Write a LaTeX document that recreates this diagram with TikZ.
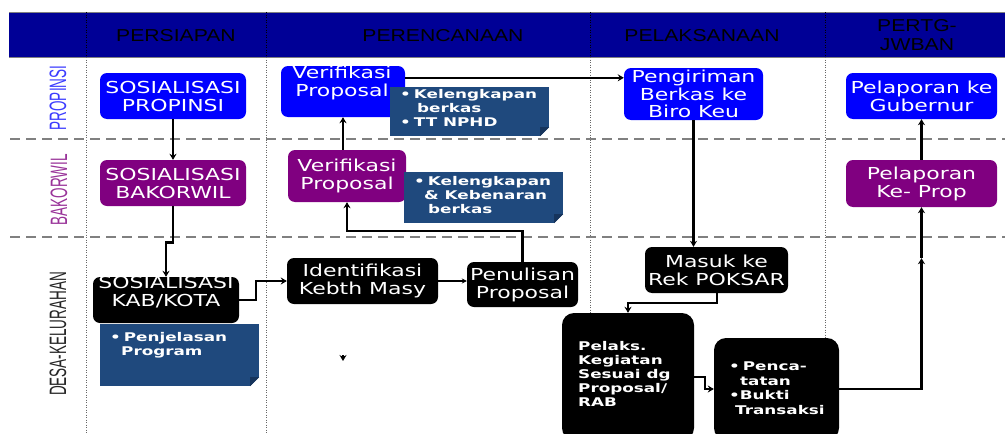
\documentclass[tikz,border=0pt]{standalone}
\usepackage{fontspec}
\usetikzlibrary{arrows.meta}
\newfontfamily\bxf{DejaVu Sans}[FakeStretch=1.33]
\newfontfamily\ntf{DejaVu Sans}[FakeStretch=1.4]
\newfontfamily\hdf{Liberation Sans}[FakeStretch=1.23]
\newfontfamily\lnf{Liberation Sans}[FakeStretch=0.57]
\definecolor{hdr}{RGB}{0,0,150}
\definecolor{bblue}{RGB}{0,0,255}
\definecolor{bpurp}{RGB}{128,0,128}
\definecolor{notec}{RGB}{31,73,125}
\definecolor{notefold}{RGB}{22,52,92}
\definecolor{lanep}{RGB}{60,60,255}
\definecolor{lanew}{RGB}{153,51,153}
\definecolor{gridc}{RGB}{128,128,128}
\newcommand\mynotefold[1]{%
  \fill[white] ([xshift=-9pt]#1.south east) -- (#1.south east) -- ([yshift=9pt]#1.south east) -- cycle;
  \fill[notefold] ([xshift=-9pt]#1.south east) -- ([yshift=9pt]#1.south east) -- ([xshift=-9pt,yshift=9pt]#1.south east) -- cycle;}
\begin{document}
\begin{tikzpicture}[x=1pt,y=-1pt,
  btxt/.style={align=center, text=white, inner sep=0pt, font=\bxf\fontsize{16.5}{18}\selectfont},
  box/.style={btxt, rounded corners=7pt},
  bl/.style={box, fill=bblue},
  pu/.style={box, fill=bpurp},
  bk/.style={box, fill=black},
  note/.style={fill=notec, inner sep=0pt},
  ntxt/.style={anchor=north west, inner sep=0pt, align=left, text=white, font=\ntf\bfseries\fontsize{12}{14}\selectfont},
  hdtxt/.style={align=center, text=black, inner sep=0pt, font=\hdf\fontsize{17.2}{19}\selectfont},
  lane/.style={rotate=90, inner sep=0pt, font=\lnf\fontsize{23.7}{24}\selectfont},
  conn/.style={line width=2.6pt, -{Stealth[length=6pt,width=7pt]}},
  thinconn/.style={line width=1.1pt, -{Stealth[length=5pt,width=5pt]}},
  sep/.style={gridc, line width=2.5pt, dash pattern=on 10pt off 6pt},
  col/.style={gridc!80!black, line width=0.9pt, dash pattern=on 1pt off 1.5pt}]
\clip (0,0) rectangle (1005,434);
\fill[white] (0,0) rectangle (1005,434);
% header
\fill[hdr] (9,12) rectangle (1005,57);
\draw[gray, line width=1pt] (9,12) -- (1005,12) (9,57) -- (1005,57);
\foreach \x in {86,266,590,825} {
  \draw[black, line width=0.8pt, dash pattern=on 1pt off 1.5pt] (\x,12) -- (\x,57);
  \draw[col] (\x,57) -- (\x,434);
}
\draw[sep] (10,139) -- (1005,139);
\draw[sep] (10,237) -- (1005,237);
\node[hdtxt] (h1) at (176,35.5) {PERSIAPAN};
\node[hdtxt] (h2) at (443,35.5) {PERENCANAAN};
\node[hdtxt] (h3) at (702,36) {PELAKSANAAN};
\node[hdtxt] (h4) at (917,35.5) {PERTG-\\JWBAN};
% lanes
\node[lane, text=lanep] (l1) at (58,98) {PROPINSI};
\node[lane, text=lanew] (l2) at (59,190) {BAKORWIL};
\node[lane, text=black!85] (l3) at (58,334) {DESA-KELURAHAN};
% boxes
\node[bl, minimum width=146pt, minimum height=46pt] (sp) at (173,96) {SOSIALISASI\\PROPINSI};
\node[pu, minimum width=146pt, minimum height=46pt] (sb) at (173,183) {SOSIALISASI\\BAKORWIL};
\node[bk, minimum width=146pt, minimum height=46pt] (sk) at (166,300) {};
\node[btxt] (skt) at (166,292) {SOSIALISASI\\KAB/KOTA};
\node[note, minimum width=159pt, minimum height=62pt] (np) at (179.5,355) {};
\mynotefold{np}
\node[ntxt] (npt) at (110,332.5) {•\kern3pt Penjelasan\\\hspace*{11pt}Program};
\node[bl, minimum width=124pt, minimum height=51pt] (vb) at (343,91.5) {};
\node[btxt] (vbt) at (342,83) {Verifikasi\\Proposal};
\node[note, minimum width=159pt, minimum height=49pt] (n1) at (469.5,111.5) {};
\mynotefold{n1}
\node[ntxt] (n1t) at (400,89) {•\kern3pt Kelengkapan\\\hspace*{17pt}berkas\\•\kern3pt TT NPHD};
\node[pu, minimum width=118pt, minimum height=52pt] (vp) at (347,176) {Verifikasi\\Proposal};
\node[note, minimum width=159pt, minimum height=51pt] (n2) at (483.5,197.5) {};
\mynotefold{n2}
\node[ntxt] (n2t) at (414,176.5) {•\kern3pt Kelengkapan\\\hspace*{10pt}\& Kebenaran\\\hspace*{14pt}berkas};
\node[bk, minimum width=151pt, minimum height=46pt] (id) at (362.5,281) {Identifikasi\\Kebth Masy};
\node[bk, minimum width=111pt, minimum height=45pt] (pn) at (522.5,284.5) {Penulisan\\Proposal};
\node[bl, minimum width=139pt, minimum height=52pt, font=\bxf\fontsize{16.5}{17.5}\selectfont] (pg) at (693.5,94) {Pengiriman\\Berkas ke\\Biro Keu};
\node[bk, minimum width=143pt, minimum height=46pt] (mk) at (716.5,270) {Masuk ke\\Rek POKSAR};
\node[bk, minimum width=132pt, minimum height=127pt, rounded corners=12pt] (pl) at (628,376.5) {};
\node[ntxt] (plt) at (578,341) {Pelaks.\\Kegiatan\\Sesuai dg\\Proposal/\\RAB};
\node[bk, minimum width=125pt, minimum height=102pt, rounded corners=12pt] (pc) at (776.5,389) {};
\node[ntxt, font=\ntf\bfseries\fontsize{12}{14.6}\selectfont] (pct) at (729,361.5) {•\kern3pt Penca-\\\hspace*{11pt}tatan\\•Bukti\\\hspace*{6pt}Transaksi};
\node[pu, minimum width=151pt, minimum height=47pt] (gk) at (921.5,183.5) {Pelaporan\\Ke- Prop};
\node[bl, minimum width=151pt, minimum height=46pt] (gg) at (921.5,96) {Pelaporan ke\\Gubernur};
% connectors
\draw[conn] (sp.south) -- (sb.north);
\draw[conn] (sb.south) -- ++(0,36) -| (sk.north);
\draw[conn, line width=2.3pt] (sk.east) -- ++(17,0) |- (id.west);
\draw[thinconn] (id.east) -- (id.east -| pn.west);
\draw[conn] (pn.north) -- ++(0,-31) -| (vp.south);
\draw[conn] (vp.north -| vb.south) -- (vb.south);
\coordinate (vbo) at ([yshift=-12pt]vb.north east);
\draw[conn, line width=2.3pt] (vbo) -- (vbo -| pg.west);
\draw[conn] (pg.south) -- (pg.south |- mk.north);
\draw[conn, line width=2pt] (mk.south) -- ++(0,10) -| (pl.north);
\draw[conn, line width=2pt] (pl.east) -- ++(11,0) |- (pc.west);
\path (gk.south) ++(0,51) coordinate (mid);
\draw[conn, line width=2.3pt] (pc.east) -| (mid);
\draw[conn, line width=2.3pt] (mid) -- (gk.south);
\draw[conn] (gk.north) -- (gg.south);
\coordinate (stray) at (343,355);
\draw[conn, line width=1.8pt] (stray) -- ++(0,6);
\end{tikzpicture}
\end{document}
